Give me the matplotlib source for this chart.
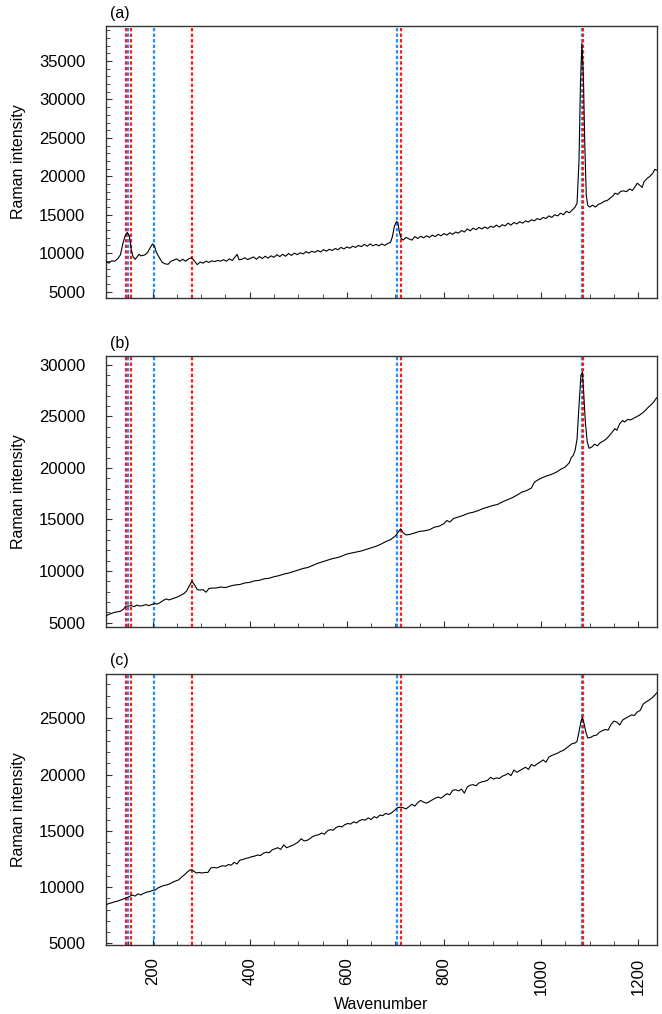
import matplotlib
matplotlib.use("Agg")
import matplotlib.pyplot as plt
from matplotlib.ticker import MultipleLocator

plt.rcParams['font.family'] = ['Liberation Sans', 'DejaVu Sans']

# spectrum (a)
wn_a = [104, 110, 116, 122, 128, 134, 139, 144, 148, 152, 156, 160, 164, 168, 172, 176, 180, 185, 190, 195,
        200, 204, 208, 214, 220, 226, 232, 238, 244, 250, 256, 262, 268, 274, 280, 286, 292, 298, 304, 310,
        316, 322, 328, 334, 340, 346, 352, 358, 364, 370, 374, 378, 384, 390, 396, 402, 408, 414, 420, 426,
        432, 438, 444, 450, 456, 462, 468, 474, 480, 486, 492, 498, 504, 510, 516, 522, 528, 534, 540, 546,
        552, 558, 564, 570, 576, 582, 588, 594, 600, 606, 612, 618, 624, 630, 636, 642, 648, 654, 660, 666,
        672, 678, 684, 690, 694, 698, 702, 705, 708, 712, 716, 722, 728, 734, 740, 746, 752, 758, 764, 770,
        776, 782, 788, 794, 800, 806, 812, 818, 824, 830, 836, 842, 848, 854, 860, 866, 872, 878, 884, 890,
        896, 902, 908, 914, 920, 926, 932, 938, 944, 950, 956, 962, 968, 974, 980, 986, 992, 998, 1004, 1010,
        1016, 1022, 1028, 1034, 1040, 1046, 1052, 1058, 1064, 1070, 1074, 1078, 1081, 1084, 1087, 1090, 1093, 1096, 1100, 1106,
        1112, 1118, 1124, 1130, 1136, 1142, 1148, 1152, 1158, 1164, 1170, 1176, 1182, 1188, 1194, 1198, 1202, 1208, 1212, 1218,
        1224, 1230, 1234, 1238]
int_a = [8900, 8700, 9000, 8950, 9250, 9800, 11300, 12300, 12700, 12300, 10500, 9500, 9200, 9500, 9850, 9650, 9700, 9800, 10100, 10700,
         11200, 10900, 10100, 9400, 8800, 8600, 8550, 8950, 9100, 9250, 8950, 9200, 8950, 9250, 9400, 9000, 8500, 8850, 8700, 8950,
         8800, 9000, 8900, 9050, 8950, 9150, 8950, 9250, 9050, 9500, 9850, 9150, 9200, 9400, 9150, 9350, 9500, 9200, 9550, 9300,
         9600, 9350, 9650, 9450, 9800, 9550, 9850, 9600, 9950, 9700, 10000, 9800, 10050, 9900, 10200, 10000, 10250, 10100, 10350, 10150,
         10450, 10250, 10500, 10350, 10600, 10450, 10750, 10550, 10800, 10650, 10900, 10750, 11000, 10850, 11150, 10900, 11200, 10950, 11150, 10950,
         11200, 11000, 11250, 11400, 12200, 13500, 14100, 14000, 12800, 11900, 11700, 12050, 11850, 11700, 12150, 11900, 12200, 12000, 12250, 12050,
         12350, 12150, 12450, 12250, 12550, 12350, 12650, 12450, 12750, 12600, 12950, 12750, 13150, 12900, 13250, 13050, 13350, 13150, 13400, 13200,
         13500, 13350, 13650, 13400, 13700, 13550, 13900, 13650, 14000, 13800, 14100, 13900, 14200, 14050, 14350, 14200, 14500, 14350, 14650, 14500,
         14850, 14650, 15000, 14850, 15200, 15000, 15450, 15250, 15600, 16000, 16500, 22000, 32000, 37300, 33000, 24000, 17500, 16200, 16000, 16250,
         16000, 16350, 16500, 16750, 16850, 17150, 17450, 17800, 17650, 18050, 18100, 18000, 18350, 18150, 18700, 19100, 18900, 18550, 19300, 19700,
         20000, 20400, 20900, 20800]

# spectrum (b)
wn_b = [104, 110, 116, 122, 128, 134, 140, 145, 150, 156, 162, 168, 174, 180, 186, 192, 198, 204, 210, 216,
        222, 228, 234, 240, 246, 252, 258, 264, 270, 276, 281, 286, 292, 298, 304, 310, 316, 322, 330, 340,
        350, 360, 370, 380, 390, 400, 410, 420, 430, 440, 450, 460, 470, 480, 490, 500, 510, 520, 530, 540,
        550, 560, 570, 580, 590, 600, 610, 620, 630, 640, 650, 660, 670, 680, 690, 700, 706, 711, 716, 722,
        730, 740, 750, 760, 770, 780, 790, 800, 806, 812, 820, 830, 840, 850, 860, 870, 880, 890, 900, 910,
        920, 930, 940, 950, 960, 970, 980, 986, 992, 1000, 1010, 1020, 1030, 1040, 1050, 1058, 1062, 1066, 1070, 1074,
        1078, 1082, 1085, 1088, 1091, 1095, 1099, 1105, 1110, 1116, 1122, 1128, 1134, 1140, 1146, 1152, 1156, 1162, 1168, 1172,
        1178, 1184, 1190, 1196, 1202, 1208, 1214, 1220, 1226, 1232, 1238]
int_b = [5650, 5800, 5900, 6000, 6050, 6100, 6300, 6600, 6600, 6650, 6550, 6700, 6600, 6650, 6750, 6650, 6750, 6850, 6800, 6950,
         7150, 7300, 7200, 7300, 7400, 7500, 7650, 7800, 8050, 8600, 9000, 8700, 8200, 8150, 8200, 7950, 8300, 8350, 8350, 8450,
         8400, 8550, 8650, 8700, 8850, 8900, 9050, 9100, 9250, 9300, 9450, 9550, 9700, 9800, 9950, 10100, 10250, 10350, 10550, 10750,
         10900, 11050, 11200, 11300, 11450, 11650, 11750, 11850, 11950, 12100, 12250, 12400, 12600, 12850, 13050, 13400, 13800, 14100, 13700, 13500,
         13550, 13700, 13850, 13900, 14000, 14250, 14350, 14600, 14900, 14750, 15100, 15250, 15400, 15600, 15700, 15850, 16050, 16200, 16350, 16450,
         16700, 16900, 17100, 17350, 17650, 17800, 18050, 18600, 18800, 19000, 19200, 19350, 19550, 19850, 20100, 20500, 21000, 21200, 21700, 22800,
         26000, 29000, 29300, 27000, 24500, 22500, 21900, 22050, 22300, 22150, 22450, 22600, 22800, 23100, 23450, 23800, 23650, 24300, 24600, 24450,
         24700, 24650, 24800, 24950, 25100, 25300, 25550, 25850, 26100, 26400, 26800]

# spectrum (c)
wn_c = [104, 110, 116, 122, 128, 134, 140, 146, 152, 158, 164, 170, 176, 182, 188, 194, 200, 206, 212, 218,
        224, 230, 236, 242, 248, 254, 260, 266, 272, 278, 284, 290, 296, 302, 308, 314, 320, 326, 332, 338,
        344, 350, 356, 362, 368, 374, 380, 386, 392, 398, 404, 410, 416, 422, 428, 434, 440, 446, 452, 458,
        464, 470, 476, 482, 488, 494, 500, 506, 512, 518, 524, 530, 536, 542, 548, 554, 560, 566, 572, 578,
        584, 590, 596, 602, 608, 614, 620, 626, 632, 638, 644, 650, 656, 662, 668, 674, 680, 686, 692, 698,
        704, 710, 716, 722, 728, 734, 740, 746, 752, 758, 764, 770, 776, 782, 788, 794, 800, 806, 812, 818,
        824, 830, 836, 842, 848, 854, 860, 866, 872, 878, 884, 890, 896, 902, 908, 914, 920, 926, 932, 938,
        944, 950, 956, 962, 968, 974, 980, 986, 992, 998, 1004, 1010, 1016, 1022, 1028, 1034, 1040, 1046, 1052, 1058,
        1064, 1070, 1074, 1078, 1082, 1085, 1088, 1092, 1096, 1102, 1108, 1114, 1120, 1126, 1132, 1138, 1144, 1150, 1156, 1162,
        1168, 1174, 1180, 1186, 1192, 1198, 1204, 1210, 1216, 1222, 1228, 1234, 1238]
int_c = [8400, 8550, 8600, 8700, 8750, 8850, 8950, 9050, 9150, 9300, 9200, 9400, 9300, 9450, 9550, 9600, 9700, 9750, 9950, 10050,
         10150, 10200, 10300, 10450, 10550, 10650, 10900, 11100, 11350, 11550, 11450, 11250, 11300, 11250, 11300, 11300, 11700, 11750, 11700, 11800,
         11900, 11850, 12000, 11950, 12200, 12050, 12400, 12450, 12550, 12600, 12700, 12750, 12850, 12800, 13000, 13100, 13050, 13300, 13400, 13500,
         13350, 13750, 13500, 13600, 13700, 13850, 14000, 14300, 14100, 14150, 14300, 14500, 14600, 14650, 14800, 14700, 15000, 15100, 15050, 15300,
         15400, 15350, 15550, 15650, 15600, 15800, 15700, 15900, 16000, 15950, 16150, 16000, 16250, 16150, 16400, 16350, 16550, 16450, 16600, 16800,
         17050, 17100, 17050, 16950, 17150, 17350, 17200, 17500, 17700, 17550, 17450, 17600, 17750, 17900, 18000, 17900, 18100, 18300, 18200, 18600,
         18650, 18550, 18700, 18350, 18900, 19050, 19100, 19000, 19250, 19350, 19400, 19500, 19750, 19600, 19700, 19650, 19850, 19950, 20100, 19900,
         20400, 20200, 20350, 20500, 20650, 20450, 20900, 20750, 20950, 21100, 21300, 21100, 21550, 21700, 21800, 21900, 22050, 22150, 22350, 22550,
         22750, 22800, 22950, 23800, 24700, 25100, 24600, 23800, 23250, 23300, 23450, 23500, 23750, 23900, 24000, 23950, 24450, 24750, 24650, 24400,
         24850, 25000, 25150, 25300, 25250, 25550, 25700, 26250, 26450, 26600, 26800, 27050, 27250]

# reference band positions
red_lines = [145, 155, 281, 712, 1085.5]
blue_lines = [150, 204, 703, 1084.5]

panels = [("(a)", wn_a, int_a, (4200, 39500)),
          ("(b)", wn_b, int_b, (4550, 30850)),
          ("(c)", wn_c, int_c, (4850, 28950))]

fig = plt.figure(figsize=(6.62, 10.14), dpi=100)
bottoms = [0.7064, 0.3814, 0.068]
height = 0.2675

for i, (lab, x, y, ylim) in enumerate(panels):
    ax = fig.add_axes([0.160, bottoms[i], 0.832, height])
    for xv in blue_lines:
        ax.axvline(xv, color='#1e90ff', lw=1.6, ls=(0, (1.5, 1.0)), zorder=1)
    for xv in red_lines:
        ax.axvline(xv, color='#ff1a1a', lw=1.6, ls=(0, (1.5, 1.0)), zorder=1)
    ax.plot(x, y, color='black', lw=0.8, zorder=3)
    ax.set_xlim(104, 1238)
    ax.set_ylim(*ylim)
    ax.xaxis.set_major_locator(MultipleLocator(200))
    ax.xaxis.set_minor_locator(MultipleLocator(50))
    ax.yaxis.set_major_locator(MultipleLocator(5000))
    ax.yaxis.set_minor_locator(MultipleLocator(1000))
    ax.tick_params(which='both', direction='in', top=False, right=False, color='#333333')
    ax.tick_params(which='major', length=4, width=0.8)
    ax.tick_params(which='minor', length=3, width=0.6)
    ax.tick_params(axis='y', labelsize=12, pad=15)
    ax.tick_params(axis='x', labelsize=12, pad=9, labelrotation=90)
    for s in ax.spines.values():
        s.set_color('#333333')
        s.set_linewidth(1.0)
    ax.set_ylabel("Raman intensity", fontsize=11.5)
    ax.yaxis.set_label_coords(-0.145, 0.5)
    ax.text(0.007, 1.02, lab, transform=ax.transAxes, fontsize=11.5, va='bottom', ha='left')
    if i < 2:
        ax.tick_params(axis='x', labelbottom=False)
    else:
        ax.set_xlabel("Wavenumber", fontsize=11.5, labelpad=2)

fig.savefig("out.png", dpi=100)
